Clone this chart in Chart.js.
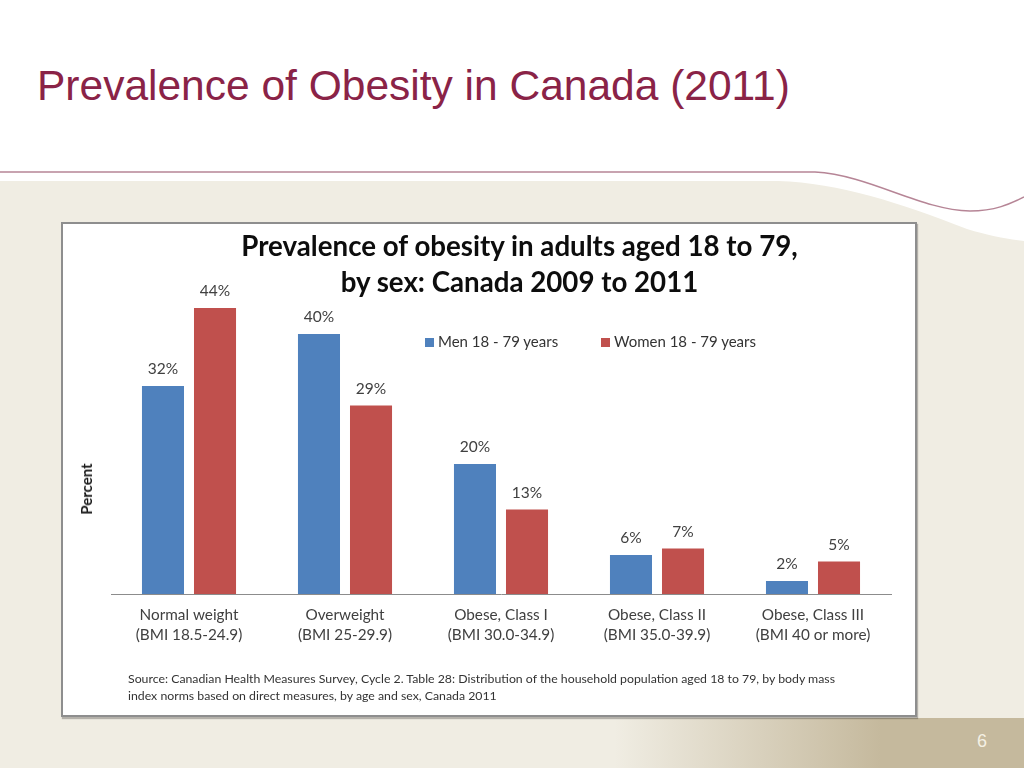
<!DOCTYPE html>
<html>
<head>
<meta charset="utf-8">
<script src="https://cdn.jsdelivr.net/npm/chart.js@4.4.1/dist/chart.umd.min.js"></script>
<style>
  html, body { margin:0; padding:0; }
  body { width:1024px; height:768px; position:relative; overflow:hidden; background:#ffffff; font-family:Lato, "Open Sans", sans-serif; }
  #bg { position:absolute; left:0; top:0; }
  #slideTitle { position:absolute; left:37px; top:61px; font-family:"Liberation Sans", Arial, sans-serif; font-size:42.5px; color:#8a2347; white-space:nowrap; line-height:50px; }
  #box { position:absolute; left:61px; top:222px; width:852px; height:491px; background:#fff; border:2px solid #8e8e8e; box-shadow:1px 2px 1px rgba(0,0,0,0.25); }
  #chartTitle { position:absolute; left:119px; width:801px; top:228px; text-align:center; font-family:Lato, sans-serif; font-weight:bold; font-size:27.7px; line-height:36px; color:#0d0d0d; }
  #legend { position:absolute; top:332px; left:425px; font-size:15px; color:#333; white-space:nowrap; }
  .lg { position:absolute; top:0; height:18px; line-height:18px; }
  .sw { display:inline-block; width:9px; height:9px; margin-right:4px; vertical-align:0px; }
  #yTitle { position:absolute; left:86px; top:489px; transform:translate(-50%,-50%) rotate(-90deg); font-weight:bold; font-size:15px; color:#1a1a1a; white-space:nowrap; }
  #source { position:absolute; left:128px; top:670px; font-size:12.3px; line-height:17px; color:#333; white-space:nowrap; }
  #pageNo { position:absolute; left:977px; top:731px; font-family:"Liberation Sans", Arial, sans-serif; font-size:18px; color:#f4f0e4; }
  canvas { position:absolute; left:63px; top:224px; }
</style>
</head>
<body>
<svg id="bg" width="1024" height="768" viewBox="0 0 1024 768">
  <defs>
    <linearGradient id="tan" x1="0" y1="0" x2="1" y2="0">
      <stop offset="0" stop-color="#c5b99d" stop-opacity="0"/>
      <stop offset="0.6" stop-color="#c5b99d" stop-opacity="0"/>
      <stop offset="0.86" stop-color="#c5b99d" stop-opacity="1"/>
      <stop offset="1" stop-color="#c5b99d" stop-opacity="1"/>
    </linearGradient>
  </defs>
  <path d="M0,181 L778,181 C840,183 900,203 967,229 C990,236 1008,239 1024,241 L1024,768 L0,768 Z" fill="#f0ede3"/>
  <rect x="0" y="718" width="1024" height="50" fill="url(#tan)"/>
  <path d="M0,172 L815,172 C870,175 920,210 970,211 C995,211 1010,204 1024,197" fill="none" stroke="#b68596" stroke-width="1.5"/>
</svg>
<div id="slideTitle">Prevalence of Obesity in Canada (2011)</div>
<div id="box"></div>
<canvas id="c" width="852" height="491" style="width:852px;height:491px"></canvas>
<div id="chartTitle">Prevalence of obesity in adults aged 18 to 79,<br>by sex: Canada 2009 to 2011</div>
<div id="legend"></div>
<div id="yTitle">Percent</div>
<div id="source">Source: Canadian Health Measures Survey, Cycle 2. Table 28: Distribution of the household population aged 18 to 79, by body mass<br>index norms based on direct measures, by age and sex, Canada 2011</div>
<div id="pageNo">6</div>
<script>
// ---- data ----
const categories = [
  ["Normal weight", "(BMI 18.5-24.9)"],
  ["Overweight", "(BMI 25-29.9)"],
  ["Obese, Class I", "(BMI 30.0-34.9)"],
  ["Obese, Class II", "(BMI 35.0-39.9)"],
  ["Obese, Class III", "(BMI 40 or more)"]
];
const seriesNames = ["Men 18 - 79 years", "Women 18 - 79 years"];
const menValues = [32, 40, 20, 6, 2];
const womenValues = [44, 29, 13, 7, 5];
const seriesColors = ["#4f81bd", "#c0504d"];

// ---- html legend built from datasets ----
const legendEl = document.getElementById('legend');
const legendOffsets = [0, 176];
seriesNames.forEach((n, i) => {
  const d = document.createElement('div');
  d.className = 'lg';
  d.style.left = legendOffsets[i] + 'px';
  d.innerHTML = '<span class="sw" style="background:' + seriesColors[i] + '"></span>' + n;
  legendEl.appendChild(d);
});

const valueLabels = {
  id: 'valueLabels',
  afterDatasetsDraw(chart) {
    const ctx = chart.ctx;
    ctx.save();
    ctx.font = '15.5px Lato, sans-serif';
    ctx.fillStyle = '#404040';
    ctx.textAlign = 'center';
    ctx.textBaseline = 'middle';
    chart.data.datasets.forEach((ds, di) => {
      const meta = chart.getDatasetMeta(di);
      meta.data.forEach((bar, i) => {
        ctx.fillText(ds.data[i] + '%', bar.x, bar.y - 17);
      });
    });
    ctx.restore();
  }
};

new Chart(document.getElementById('c'), {
  type: 'bar',
  data: {
    labels: categories,
    datasets: [
      { label: seriesNames[0], data: menValues, backgroundColor: seriesColors[0], categoryPercentage: 0.667, barPercentage: 0.808 },
      { label: seriesNames[1], data: womenValues, backgroundColor: seriesColors[1], categoryPercentage: 0.667, barPercentage: 0.808 }
    ]
  },
  options: {
    responsive: false,
    animation: false,
    layout: { padding: { left: 48, right: 24, top: 45, bottom: 59 } },
    plugins: { legend: { display: false }, title: { display: false }, tooltip: { enabled: false } },
    scales: {
      x: {
        grid: { display: false, drawTicks: false },
        border: { display: true, color: '#8c8c8c', width: 1 },
        ticks: { font: { family: 'Lato', size: 15.3, lineHeight: '20px' }, color: '#404040', padding: 11, maxRotation: 0, autoSkip: false }
      },
      y: { display: false, min: 0, max: 50 }
    }
  },
  plugins: [valueLabels]
});
</script>
</body>
</html>
